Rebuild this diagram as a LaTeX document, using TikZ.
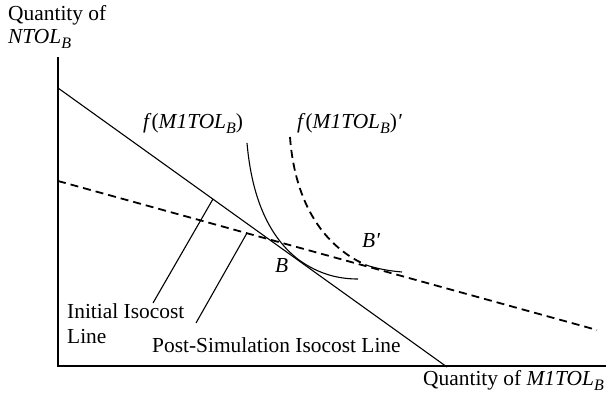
\documentclass[tikz,border=0pt]{standalone}
\usepackage{fontspec}
\setmainfont{Liberation Serif}
\newcommand{\subB}{\raisebox{-0.22em}{\fontsize{16}{16}\selectfont\textit{B}}}
\begin{document}
\begin{tikzpicture}[x=1pt,y=-1pt,
  lbl/.style={inner sep=0pt,anchor=base west,font=\fontsize{21.4}{25}\selectfont},
  axisline/.style={line width=1.1pt},
  solidline/.style={line width=1.1pt},
  dashline/.style={line width=1.8pt,dash pattern=on 8pt off 5pt},
  leader/.style={line width=1.1pt}]
\useasboundingbox (0,0) rectangle (606,395);
% axes
\coordinate (O) at (58,366);
\coordinate (ytop) at (58,57);
\coordinate (xend) at (606,366);
\draw[axisline] (ytop) -- (O) -- (xend);
% isocost lines
\coordinate (s1) at (58,88);
\coordinate (s2) at (447,367);
\draw[solidline] (s1) -- (s2);
\coordinate (d1) at (58,181);
\coordinate (d2) at (597,330);
\draw[dashline] (d1) -- (d2);
% isoquants
\coordinate (f1) at (247,143);
\coordinate (fB) at (299,260);
\coordinate (f2) at (358,279);
\draw[solidline] (f1) .. controls (252,200) and (270,238) .. (fB)
  .. controls (320,275) and (340,279) .. (f2);
\coordinate (g1) at (290,137);
\coordinate (gB) at (366,265);
\coordinate (g2) at (402,272);
\draw[dashline] (g1) .. controls (295,205) and (325,247) .. (gB);
\draw[solidline] (gB) .. controls (378,269) and (390,271) .. (g2);
% leaders
\coordinate (a1) at (213,199);
\coordinate (a2) at (153,303);
\draw[leader] (a1) -- (a2);
\coordinate (b1) at (247,233);
\coordinate (b2) at (196,323);
\draw[leader] (b1) -- (b2);
% labels
\node[lbl] (qy) at (8,21) {Quantity of};
\node[lbl] (ny) at (8,44) {\textit{NTOL}\subB};
\node[lbl] (fl) at (143,129) {\textit{f}(\textit{M1TOL}\subB)};
\node[lbl] (fp) at (297,129) {\textit{f}(\textit{M1TOL}\subB)\textit{′}};
\node[lbl] (Bp) at (362,248) {\textit{B′}};
\node[lbl] (B) at (275,273) {\textit{B}};
\node[lbl] (ini) at (67,319) {Initial Isocost};
\node[lbl] (ini2) at (67,344) {Line};
\node[lbl] (post) at (152,353) {Post-Simulation Isocost Line};
\node[lbl,anchor=base east] (qx) at (604,386) {Quantity of \textit{M1TOL}\subB};
\end{tikzpicture}
\end{document}
